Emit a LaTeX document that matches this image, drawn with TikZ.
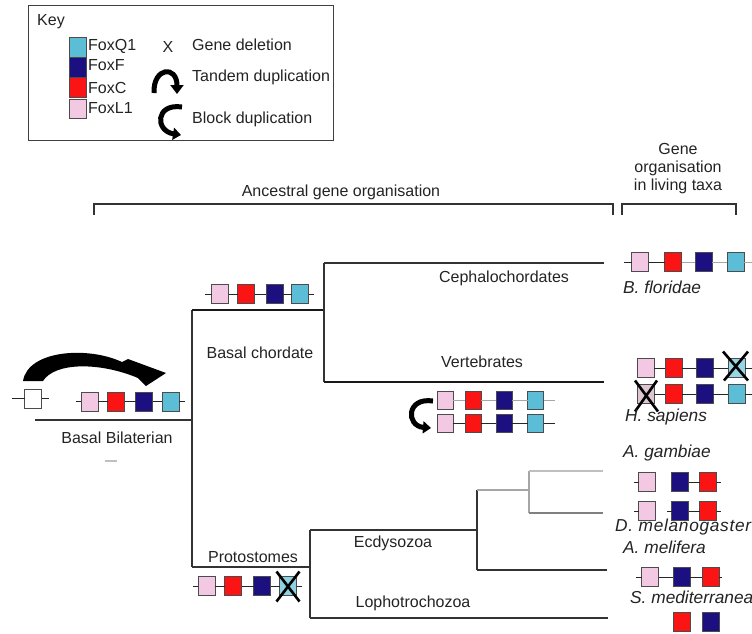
\documentclass[tikz,border=0pt]{standalone}
\usepackage{fontspec}
\setmainfont{Liberation Sans}
\usetikzlibrary{arrows.meta}
\definecolor{foxl}{RGB}{242,200,226}
\definecolor{foxc}{RGB}{250,20,20}
\definecolor{foxf}{RGB}{28,16,128}
\definecolor{foxq}{RGB}{92,190,214}
\definecolor{ink}{RGB}{35,35,35}
\begin{document}
\begin{tikzpicture}[x=1pt,y=-1pt,
  gene/.style={draw=black!70, line width=0.9pt, minimum width=17pt, minimum height=19pt, inner sep=0pt, outer sep=0pt},
  gL/.style={gene, fill=foxl}, gC/.style={gene, fill=foxc}, gF/.style={gene, fill=foxf}, gQ/.style={gene, fill=foxq},
  gW/.style={gene, fill=white},
  link/.style={draw=black!85, line width=0.9pt},
  glink/.style={draw=black!35, line width=0.9pt},
  branch/.style={draw=black!80, line width=1.3pt},
  thickbranch/.style={draw=black!90, line width=2.2pt},
  graybranch/.style={draw=black!35, line width=1.3pt},
  lbl/.style={font=\fontsize{16}{18}\selectfont, text=ink, inner sep=0pt},
  taxon/.style={font=\fontsize{17.3}{19}\selectfont\itshape, text=ink, inner sep=0pt, anchor=west},
  xmark/.style={draw=black, line width=2.6pt},
  duparrow/.style={draw=black, line width=5pt},
]
\useasboundingbox (0,0) rectangle (752,633);

% ---------------- Key ----------------
\node[draw=black!75, line width=1pt, minimum width=305pt, minimum height=135pt, anchor=north west, inner sep=0pt] (keybox) at (28,5) {};
\node[lbl, anchor=west] (keyt) at (37,22) {Key};
\node[gQ, minimum height=20pt] (kq) at (77.5,47.5) {};
\node[gF, minimum height=20pt] (kf) at (77.5,67.5) {};
\node[gC, minimum height=20pt] (kc) at (77.5,87.5) {};
\node[gL, minimum height=19pt] (kl) at (77.5,108.5) {};
\node[lbl, anchor=west] (kqt) at (88,46) {FoxQ1};
\node[lbl, anchor=west] (kft) at (88,65) {FoxF};
\node[lbl, anchor=west] (kct) at (88,88) {FoxC};
\node[lbl, anchor=west] (klt) at (88,108) {FoxL1};
\node[lbl] (kx) at (168,47) {X};
\node[lbl, anchor=west] (kdel) at (192,45) {Gene deletion};
\node[lbl, anchor=west] (ktan) at (192,77) {Tandem duplication};
\node[lbl, anchor=west] (kblk) at (192,119) {Block duplication};
\draw[duparrow, -{Triangle[length=9pt,width=13pt]}] (154,93) .. controls (153,67) and (177,65) .. (177,94);
\draw[duparrow, -{Triangle[length=8pt,width=12pt]}] (182,107) .. controls (155,103) and (155,131) .. (181,135);

% ---------------- Brackets and headings ----------------
\node[lbl] (anc) at (341,192) {Ancestral gene organisation};
\node[lbl, align=center] (liv) at (678,169) {Gene\\organisation\\in living taxa};
\draw[branch] (94,215) -- (94,204) -- (613,204) -- (613,215);
\draw[branch] (622,215) -- (622,204) -- (736,204) -- (736,215);

% ---------------- Tree ----------------
\coordinate (bbL) at (35,420);
\coordinate (bbR) at (192,420);
\coordinate (rootT) at (192,310);
\coordinate (rootB) at (192,567);
\coordinate (chR) at (324,310);
\coordinate (chT) at (324,263);
\coordinate (chB) at (324,382);
\coordinate (ceE) at (604,263);
\coordinate (veE) at (604,382);
\coordinate (prR) at (310,567);
\coordinate (prT) at (310,530);
\coordinate (prB) at (310,618);
\coordinate (ecR) at (477,530);
\coordinate (loE) at (608,618);
\coordinate (ecT) at (477,490);
\coordinate (ecB) at (477,570);
\coordinate (dpL) at (529,490);
\coordinate (dpT) at (529,471);
\coordinate (dpB) at (529,513);
\coordinate (agE) at (603,471);
\coordinate (dmE) at (603,513);
\coordinate (amE) at (607,570);

\draw[branch] (bbL) -- (bbR);
\draw[branch] (rootT) -- (rootB);
\draw[thickbranch] (rootT) -- (chR);
\draw[branch] (chT) -- (chB);
\draw[branch] (chT) -- (ceE);
\draw[thickbranch] (chB) -- (veE);
\draw[branch] (rootB) -- (prR);
\draw[branch] (prT) -- (prB);
\draw[branch] (prT) -- (ecR);
\draw[branch] (prB) -- (loE);
\draw[branch] (ecT) -- (ecB);
\draw[graybranch] (ecT) -- (dpL);
\draw[graybranch] (dpT) -- (dpB);
\draw[draw=black!25, line width=1.3pt] (dpT) -- (agE);
\draw[draw=black!50, line width=1.3pt] (dpB) -- (dmE);
\draw[branch] (ecB) -- (amE);
\draw[draw=black!25, line width=1.5pt] (105,461) -- (117,461);

% ---------------- Tree labels ----------------
\node[lbl] (tBB) at (117,438) {Basal Bilaterian};
\node[lbl] (tBC) at (260,353) {Basal chordate};
\node[lbl] (tCe) at (504,278) {Cephalochordates};
\node[lbl] (tVe) at (482,362) {Vertebrates};
\node[lbl] (tPr) at (253,557) {Protostomes};
\node[lbl] (tEc) at (393,543) {Ecdysozoa};
\node[lbl] (tLo) at (413,603) {Lophotrochozoa};

% ---------------- Basal Bilaterian genes ----------------
\node[gW] (bw) at (33,398.5) {};
\coordinate (bws) at (12,398.5); \coordinate (bwe) at (49,398.5);
\draw[link] (bws) -- (bw) -- (bwe);
\node[gL] (bb1) at (89.5,401.5) {};
\node[gC] (bb2) at (116,401.5) {};
\node[gF] (bb3) at (144,401.5) {};
\node[gQ] (bb4) at (170.5,401.5) {};
\coordinate (bbs) at (76,401.5); \coordinate (bbe) at (185,401.5);
\draw[link] (bbs) -- (bb1) -- (bb2) -- (bb3) -- (bb4) -- (bbe);
\fill[black] (23,381) .. controls (28,350) and (88,346) .. (122,362)
  -- (128,359) -- (166,373) -- (146,386) -- (138,378)
  .. controls (100,362) and (55,362) .. (43,381) -- cycle;

% ---------------- Basal chordate genes ----------------
\node[gL] (bc1) at (220,294) {};
\node[gC] (bc2) at (246,294) {};
\node[gF] (bc3) at (274.5,294) {};
\node[gQ] (bc4) at (300,294) {};
\coordinate (bcs) at (205,294); \coordinate (bce) at (314,294);
\draw[link] (bcs) -- (bc1) -- (bc2) -- (bc3) -- (bc4) -- (bce);

% ---------------- Vertebrate ancestor genes ----------------
\node[gL, minimum width=16pt, minimum height=18pt] (vt1) at (445,400) {};
\node[gC, minimum width=16pt, minimum height=18pt] (vt2) at (473,400) {};
\node[gF, minimum width=16pt, minimum height=18pt] (vt3) at (504,400) {};
\node[gQ, minimum width=16pt, minimum height=18pt] (vt4) at (535.5,400) {};
\coordinate (vte) at (555,400);
\draw[glink] (vt1) -- (vt2) -- (vt3) -- (vt4) -- (vte);
\node[gL, minimum width=16pt, minimum height=18pt] (vb1) at (445,423) {};
\node[gC, minimum width=16pt, minimum height=18pt] (vb2) at (473,423) {};
\node[gF, minimum width=16pt, minimum height=18pt] (vb3) at (504,423) {};
\node[gQ, minimum width=16pt, minimum height=18pt] (vb4) at (535.5,423) {};
\coordinate (vbe) at (555,423);
\draw[link] (vb1) -- (vb2) -- (vb3) -- (vb4) -- (vbe);
\draw[duparrow, -{Triangle[length=8pt,width=12pt]}] (433,401) .. controls (406,397) and (406,426) .. (431,428);

% ---------------- Protostome genes ----------------
\node[gL] (pr1) at (206.5,586) {};
\node[gC] (pr2) at (233,586) {};
\node[gF] (pr3) at (262,586) {};
\node[gQ, fill=foxq!70!white] (pr4) at (288,586) {};
\coordinate (prs) at (193,586); \coordinate (pre) at (302,586);
\draw[link] (prs) -- (pr1) -- (pr2) -- (pr3) -- (pr4) -- (pre);
\draw[xmark] ([shift={(-3,-5)}]pr4.north west) -- ([shift={(3,6)}]pr4.south east);
\draw[xmark] ([shift={(3,-5)}]pr4.north east) -- ([shift={(-3,6)}]pr4.south west);

% ---------------- B. floridae ----------------
\node[gL] (bf1) at (640,262) {};
\node[gC] (bf2) at (673,262) {};
\node[gF] (bf3) at (703.5,262) {};
\node[gQ] (bf4) at (735.5,262) {};
\coordinate (bfs) at (624,262); \coordinate (bfe) at (752,262);
\draw[link] (bfs) -- (bf1) -- (bf2);
\draw[glink] (bf2) -- (bf3) -- (bf4) -- (bfe);
\node[taxon] (tBf) at (623,287) {B. floridae};

% ---------------- H. sapiens ----------------
\node[gL] (hs1) at (645.5,368) {};
\node[gC] (hs2) at (673.5,368) {};
\node[gF] (hs3) at (704.5,368) {};
\node[gQ, fill=foxq!65!white] (hs4) at (736.5,368) {};
\coordinate (hse) at (752,368);
\draw[link] (hs1) -- (hs2) -- (hs3) -- (hs4) -- (hse);
\node[gL, fill=foxl!75!gray!80!white] (hb1) at (645.5,394) {};
\node[gC] (hb2) at (673.5,394) {};
\node[gF] (hb3) at (704.5,394) {};
\node[gQ] (hb4) at (736.5,394) {};
\coordinate (hbe) at (752,394);
\draw[link] (hb1) -- (hb2) -- (hb3) -- (hb4) -- (hbe);
\draw[xmark] ([shift={(-5,-7)}]hs4.north west) -- ([shift={(3,3)}]hs4.south east);
\draw[xmark] ([shift={(3,-7)}]hs4.north east) -- ([shift={(-4,3)}]hs4.south west);
\draw[xmark] ([shift={(-2,-4)}]hb1.north west) -- ([shift={(4,8)}]hb1.south east);
\draw[xmark] ([shift={(3,-4)}]hb1.north east) -- ([shift={(-2,8)}]hb1.south west);
\node[taxon] (tHs) at (625,417) {H. sapiens};

% ---------------- Insects ----------------
\node[taxon] (tAg) at (623,453) {A. gambiae};
\node[gL] (ag1) at (647,482) {};
\node[gF] (ag2) at (680,482) {};
\node[gC] (ag3) at (708,482) {};
\coordinate (ags) at (634,482); \coordinate (age) at (721,482);
\draw[link] (ags) -- (ag1);
\draw[link] (ag2) -- (ag3) -- (age);

\node[gL] (dm1) at (647,511) {};
\node[gF] (dm2) at (680,511) {};
\node[gC] (dm3) at (708,511) {};
\coordinate (dms) at (634,511); \coordinate (dm2s) at (667,511); \coordinate (dme) at (721,511);
\draw[link] (dms) -- (dm1);
\draw[link] (dm2s) -- (dm2) -- (dm3) -- (dme);
\node[taxon, font=\fontsize{17.3}{19}\selectfont\itshape\addfontfeature{LetterSpace=4}] (tDm) at (615,527) {D. melanogaster};

\node[taxon] (tAm) at (623,547) {A. melifera};
\node[gL] (am1) at (650,577) {};
\node[gF] (am2) at (681.5,577) {};
\node[gC] (am3) at (710.5,577) {};
\coordinate (ams) at (636,577); \coordinate (ame) at (722,577);
\draw[link] (ams) -- (am1) -- (am2) -- (am3) -- (ame);

\node[taxon] (tSm) at (630,597) {S. mediterranea};
\node[gC] (sm1) at (682,622) {};
\node[gF] (sm2) at (711,622) {};
\end{tikzpicture}
\end{document}
